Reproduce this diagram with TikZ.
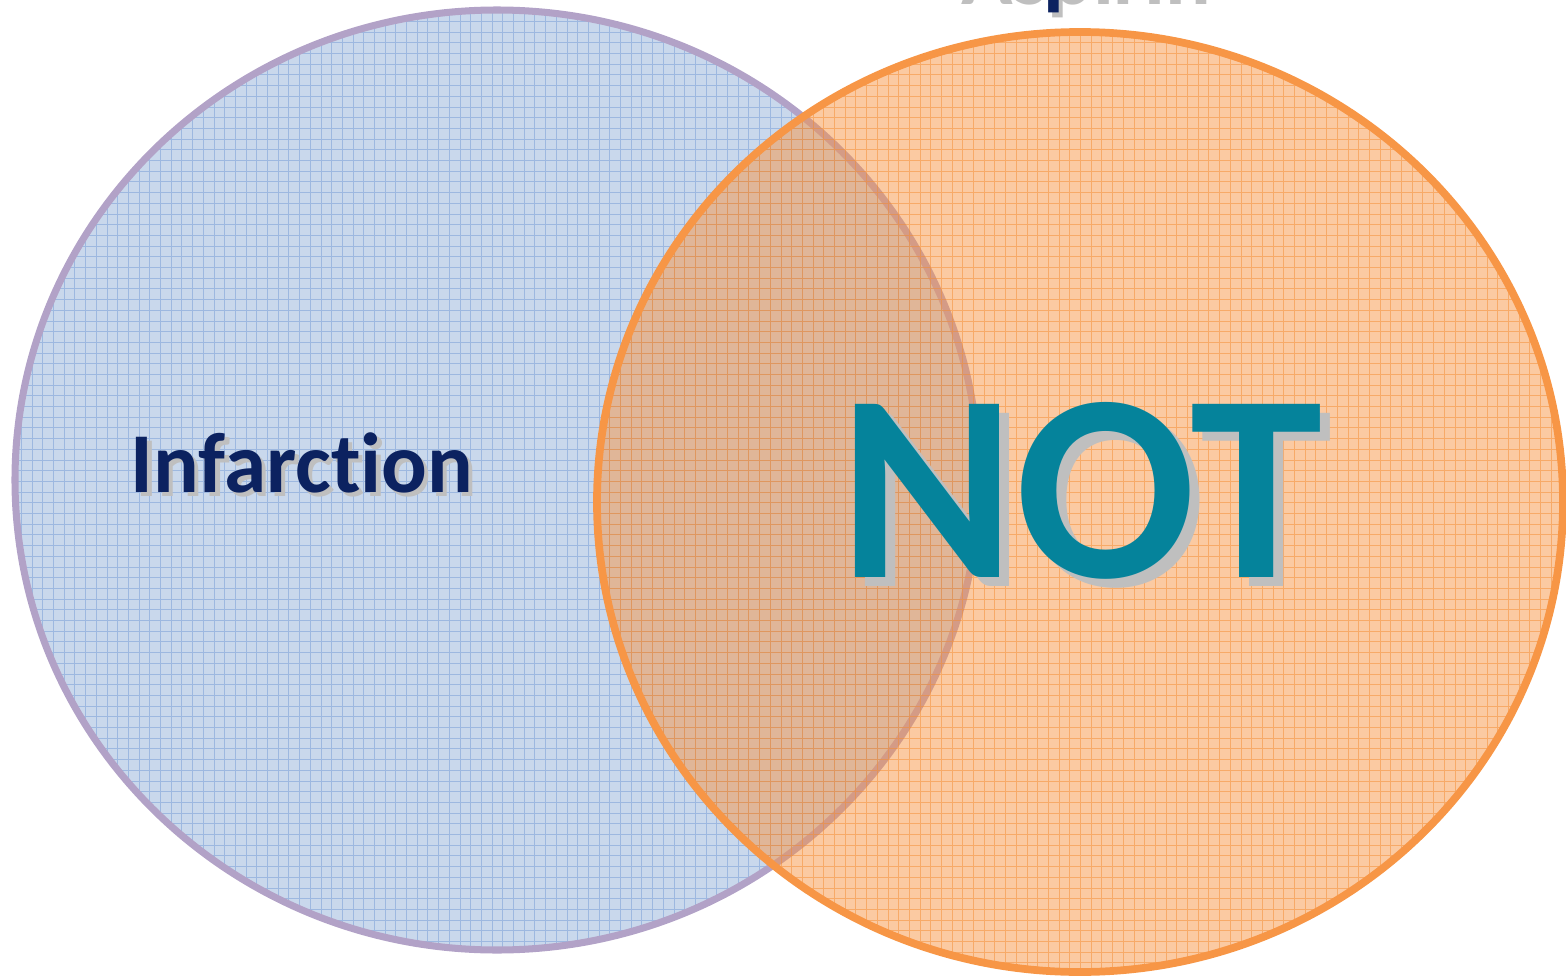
\documentclass[tikz,border=0pt]{standalone}
\usepackage{fontspec}
\setmainfont[Ligatures=NoCommon]{Carlito}
\usepackage{xcolor}
\definecolor{infline}{HTML}{B2A2C7}
\definecolor{inffill}{HTML}{C9D8EC}
\definecolor{infgrid}{HTML}{9DB8E0}
\definecolor{aspline}{HTML}{F79646}
\definecolor{aspgrid}{HTML}{F58A2E}
\definecolor{navytext}{HTML}{0C2260}
\definecolor{tealtext}{HTML}{05839B}
\definecolor{shadowgray}{HTML}{BFBFBF}
\newcommand{\shadowed}[2]{\makebox[0pt][l]{\hspace*{#1}\raisebox{-#1}{\color{shadowgray}#2}}#2}
\tikzset{infset/.style={draw=infline, line width=4pt},
         aspset/.style={draw=aspline, line width=4.4pt},
         label/.style={inner sep=0pt, anchor=base, font=\bfseries}}
\begin{document}
\begin{tikzpicture}[x=0.02cm, y=-0.02cm]
    \useasboundingbox (0,0) rectangle (1566,977);
    \coordinate (infc) at (497,480);
    \coordinate (aspc) at (1080,502);

    % left set
    \begin{scope}
        \clip (infc) ellipse [x radius=482, y radius=470];
        \fill[inffill] (0,0) rectangle (1566,977);
        \draw[infgrid, line width=0.5pt, step=0.214cm] (0,0) grid (1566,977);
    \end{scope}
    \draw[infset] (infc) ellipse [x radius=482, y radius=470];

    % right set, see-through
    \begin{scope}
        \clip (aspc) ellipse [x radius=483, y radius=470];
        \fill[aspline, fill opacity=0.5] (0,0) rectangle (1566,977);
        \draw[aspgrid, line width=0.5pt, opacity=0.5, step=0.214cm] (0,0) grid (1566,977);
    \end{scope}
    \draw[aspset] (aspc) ellipse [x radius=483, y radius=470];

    \node[label, text=navytext, font=\bfseries\fontsize{48.5}{50}\selectfont] (infarction) at (302,492) {\shadowed{2.4pt}{Infarction}};
    \node[label, text=navytext, font=\bfseries\fontsize{48.5}{50}\selectfont] (aspirin) at (1082,0) {\shadowed{2.4pt}{Aspirin}};
    \node[label, text=tealtext, font=\bfseries\fontsize{152}{155}\selectfont] (not) at (1081,577) {\shadowed{5.5pt}{NOT}};
\end{tikzpicture}
\end{document}
